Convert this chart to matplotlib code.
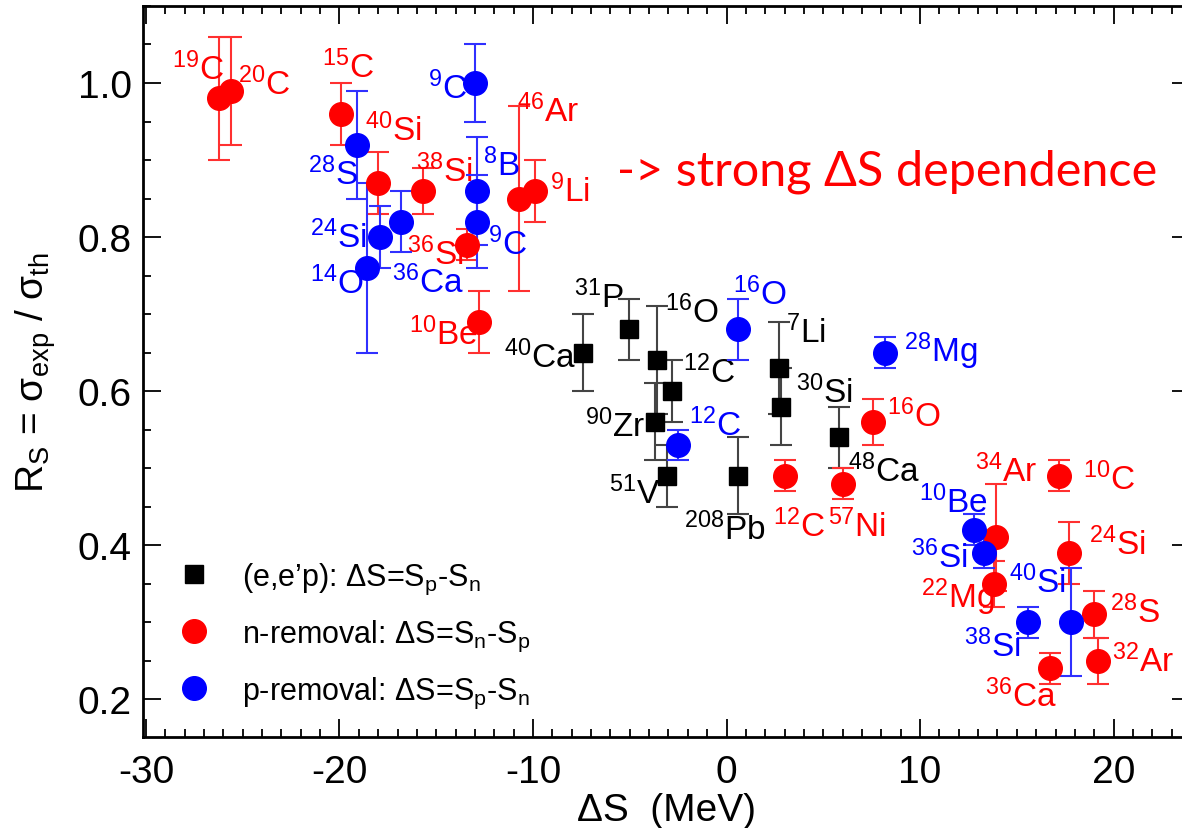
import re
import matplotlib
matplotlib.use('Agg')
import matplotlib.pyplot as plt
from matplotlib.lines import Line2D
from matplotlib.ticker import MultipleLocator, FormatStrFormatter

plt.rcParams['font.family'] = ['Liberation Sans', 'DejaVu Sans']
plt.rcParams['mathtext.fontset'] = 'custom'
plt.rcParams['mathtext.rm'] = 'Liberation Sans'
plt.rcParams['mathtext.it'] = 'Liberation Sans:italic'
plt.rcParams['mathtext.bf'] = 'Liberation Sans:bold'
plt.rcParams['axes.unicode_minus'] = False

# (e,e'p) knockout
eep_names = ['40Ca', '31P', '16O', '12C', '90Zr', '51V', '208Pb', '7Li', '30Si', '48Ca']
eep_ds = [-7.4, -5.05, -3.6, -2.8, -3.7, -3.05, 0.57, 2.7, 2.8, 5.8]
eep_rs = [0.65, 0.68, 0.64, 0.60, 0.56, 0.49, 0.49, 0.63, 0.58, 0.54]
eep_err = [0.05, 0.04, 0.07, 0.04, 0.05, 0.04, 0.05, 0.06, 0.05, 0.04]

# neutron removal
n_names = ['19C', '20C', '15C', '40Si', '38Si', '36Si', '10Be', '46Ar', '9Li', '12C',
           '57Ni', '16O', '34Ar', '22Mg', '10C', '24Si', '28S', '32Ar', '36Ca']
n_ds = [-26.25, -25.6, -19.9, -18.0, -15.7, -13.4, -12.8, -10.7, -9.9, 3.0,
        6.0, 7.55, 13.9, 13.8, 17.2, 17.7, 19.0, 19.2, 16.7]
n_rs = [0.98, 0.99, 0.96, 0.87, 0.86, 0.79, 0.69, 0.85, 0.86, 0.49,
        0.48, 0.56, 0.41, 0.35, 0.49, 0.39, 0.31, 0.25, 0.24]
n_err = [0.08, 0.07, 0.04, 0.04, 0.03, 0.02, 0.04, 0.12, 0.04, 0.02,
         0.02, 0.03, 0.07, 0.03, 0.02, 0.04, 0.03, 0.03, 0.02]

# proton removal
p_names = ['9C', '28S', '24Si', '36Ca', '14O', '8B', '9C', '16O', '12C', '28Mg',
           '10Be', '36Si', '38Si', '40Si']
p_ds = [-13.0, -19.1, -17.9, -16.8, -18.6, -12.9, -12.9, 0.6, -2.5, 8.2,
        12.8, 13.3, 15.6, 17.8]
p_rs = [1.00, 0.92, 0.80, 0.82, 0.76, 0.86, 0.82, 0.68, 0.53, 0.65,
        0.42, 0.39, 0.30, 0.30]
p_err = [0.05, 0.07, 0.04, 0.04, 0.11, 0.07, 0.06, 0.04, 0.02, 0.02,
         0.02, 0.02, 0.02, 0.07]

# where each nucleus name sits (left edge, baseline)
eep_lab = [(-11.52, 0.631), (-7.86, 0.709), (-3.2, 0.690), (-2.27, 0.612), (-7.29, 0.542),
           (-6.05, 0.455), (-2.22, 0.408), (3.05, 0.664), (3.57, 0.586), (6.3, 0.483)]
n_lab = [(-28.63, 1.005), (-25.22, 0.986), (-20.88, 1.008), (-18.66, 0.926), (-16.07, 0.873),
         (-16.49, 0.765), (-16.43, 0.661), (-10.85, 0.951), (-9.1, 0.847), (2.38, 0.412),
         (5.22, 0.412), (8.27, 0.555), (12.82, 0.483), (10.03, 0.319), (18.4, 0.473),
         (18.71, 0.388), (19.84, 0.300), (19.9, 0.236), (13.33, 0.191)]
p_lab = [(-15.45, 0.981), (-21.65, 0.869), (-21.5, 0.787), (-17.26, 0.729), (-21.5, 0.727),
         (-12.56, 0.881), (-12.35, 0.778), (0.31, 0.713), (-1.96, 0.543), (9.15, 0.639),
         (9.92, 0.443), (9.51, 0.371), (12.25, 0.256), (14.57, 0.339)]


def nucl(name):
    a, el = re.match(r'(\d+)(\D+)', name).groups()
    return r'$^{\mathregular{%s}}$%s' % (a, el)


fig = plt.figure(figsize=(11.82, 8.29), dpi=100)
ax = fig.add_axes([0.1210, 0.1098, 0.8858, 0.8818])

groups = [
    (eep_ds, eep_rs, eep_err, eep_names, eep_lab, 's', 13, 'black', '#444444'),
    (n_ds, n_rs, n_err, n_names, n_lab, 'o', 17, '#ff0000', '#ff3030'),
    (p_ds, p_rs, p_err, p_names, p_lab, 'o', 17, '#0000ff', '#3030ff'),
]
for xs, ys, es, names, labs, mk, ms, col, ecol in groups:
    ax.errorbar(xs, ys, yerr=es, fmt=mk, ms=ms, mfc=col, mec=col,
                ecolor=ecol, elinewidth=1.5, capsize=8, capthick=1.5, zorder=3)
    for name, (lx, ly) in zip(names, labs):
        ax.text(lx, ly, nucl(name), color=col, fontsize=24, ha='left', va='baseline')

ax.set_xlim(-30.15, 23.95)
ax.set_ylim(0.151, 1.1)
ax.xaxis.set_major_locator(MultipleLocator(10))
ax.xaxis.set_minor_locator(MultipleLocator(1))
ax.yaxis.set_major_locator(MultipleLocator(0.2))
ax.yaxis.set_minor_locator(MultipleLocator(0.05))
ax.yaxis.set_major_formatter(FormatStrFormatter('%.1f'))
ax.tick_params(which='both', direction='in', top=True, right=True, width=1.3, labelsize=28)
ax.tick_params(which='major', length=13, pad=12)
ax.tick_params(which='minor', length=6)
ax.tick_params(axis='y', which='major', pad=8)
for sp in ax.spines.values():
    sp.set_linewidth(2)

ax.set_xlabel('ΔS  (MeV)', fontsize=28, labelpad=2)
ax.set_ylabel(r'R$_\mathregular{S}$ = σ$_\mathregular{exp}$ / σ$_\mathregular{th}$', fontsize=28, labelpad=14)

handles = [
    Line2D([], [], ls='none', marker='s', ms=13, mfc='black', mec='black'),
    Line2D([], [], ls='none', marker='o', ms=17, mfc='#ff0000', mec='#ff0000'),
    Line2D([], [], ls='none', marker='o', ms=17, mfc='#0000ff', mec='#0000ff'),
]
labels = [
    r'(e,e’p): ΔS=S$_\mathregular{p}$-S$_\mathregular{n}$',
    r'n-removal: ΔS=S$_\mathregular{n}$-S$_\mathregular{p}$',
    r'p-removal: ΔS=S$_\mathregular{p}$-S$_\mathregular{n}$',
]
ax.legend(handles, labels, loc='upper left', bbox_to_anchor=(0.008, 0.258), frameon=False,
          fontsize=22, handletextpad=0.55, labelspacing=0.72, borderaxespad=0)

fig.text(617 / 1182, 1 - 185 / 829, '-> strong ΔS dependence', color='#ff0000',
         fontsize=35, family=['Lato', 'DejaVu Sans'], ha='left', va='baseline')

fig.savefig('out.png', dpi=100)
